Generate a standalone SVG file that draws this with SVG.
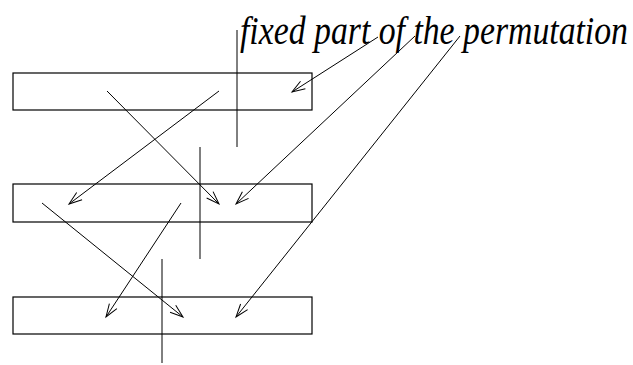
<svg xmlns="http://www.w3.org/2000/svg" width="633" height="365" viewBox="0 0 633 365">
<style>
.box{fill:none;stroke:#000;stroke-width:1.2}
.ln{fill:none;stroke:#000;stroke-width:1}
.arr{fill:none;stroke:#000;stroke-width:1;marker-end:url(#ah)}
.lbl{font-family:"Liberation Serif","Times New Roman",serif;font-style:italic;font-size:39px;fill:#000}
</style>
<defs>
<marker id="ah" markerUnits="userSpaceOnUse" markerWidth="16" markerHeight="12" refX="13" refY="6" orient="auto" overflow="visible">
<path d="M0,1.5 L13,6 L0,10.5" fill="none" stroke="#000" stroke-width="1"/>
</marker>
</defs>
<g id="label"><text class="lbl" x="240" y="44" textLength="388" lengthAdjust="spacingAndGlyphs">fixed part of the permutation</text></g>
<g id="box1"><rect class="box" x="13" y="73" width="299" height="37"/></g>
<g id="box2"><rect class="box" x="13" y="184" width="299" height="38"/></g>
<g id="box3"><rect class="box" x="13" y="297" width="299" height="37"/></g>
<g id="connectors">
<line class="ln" x1="237" y1="30" x2="237" y2="147"/>
<line class="ln" x1="200" y1="147" x2="200" y2="259"/>
<line class="ln" x1="162" y1="259" x2="162" y2="363"/>
<line class="arr" x1="378" y1="37" x2="292" y2="92"/>
<line class="arr" x1="415" y1="36" x2="236" y2="204"/>
<line class="arr" x1="460" y1="36" x2="236" y2="317"/>
<line class="arr" x1="107" y1="91" x2="219" y2="204"/>
<line class="arr" x1="219" y1="91" x2="69" y2="204"/>
<line class="arr" x1="42" y1="203" x2="183" y2="317"/>
<line class="arr" x1="181" y1="203" x2="106" y2="317"/>
</g>
</svg>
